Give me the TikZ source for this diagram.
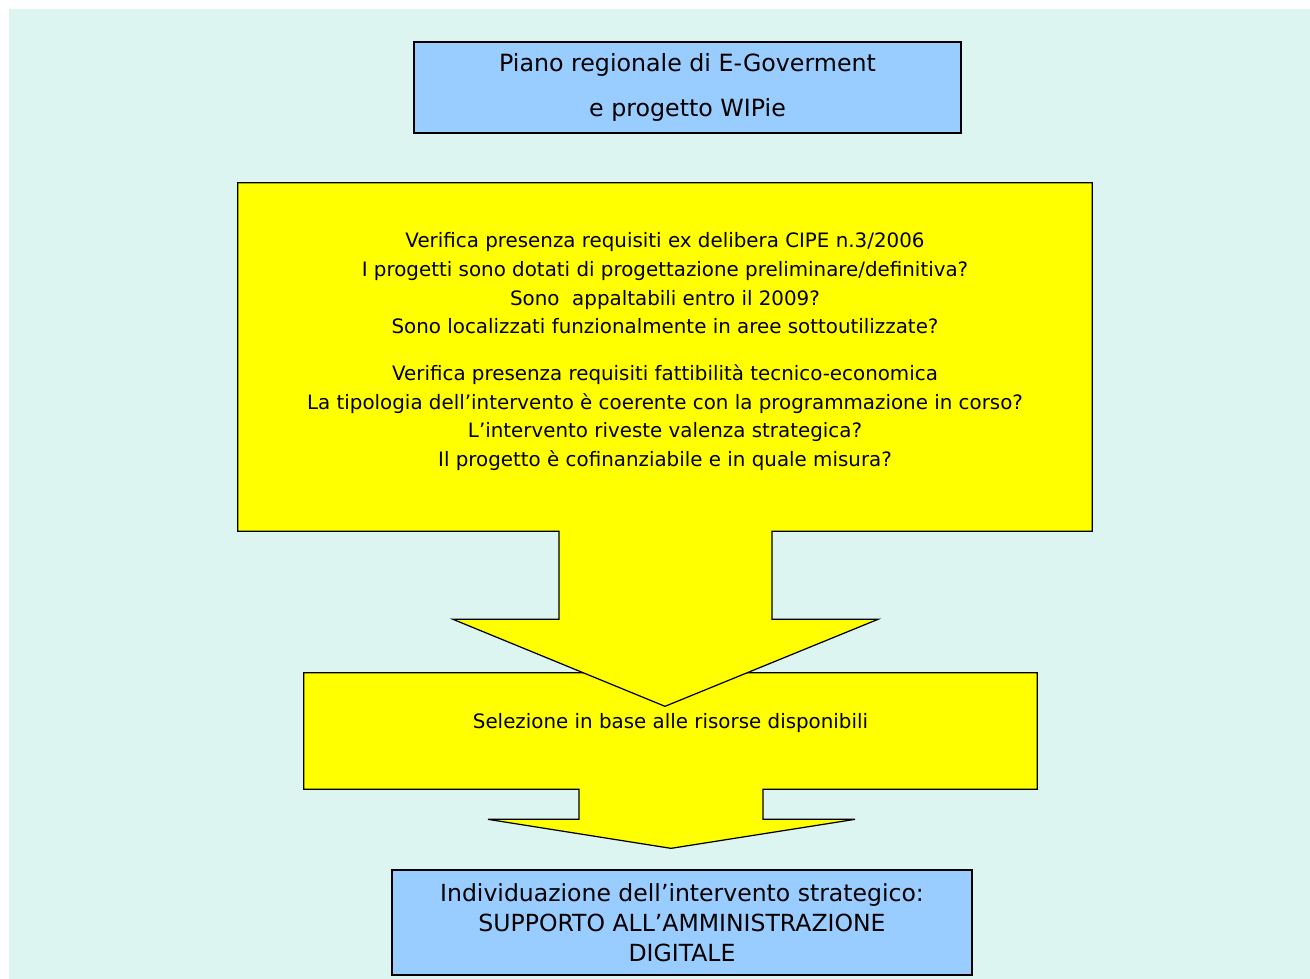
\documentclass[tikz,border=0pt]{standalone}
\usepackage{fontspec}
\setmainfont{DejaVu Sans}
\usetikzlibrary{calc,backgrounds}
\definecolor{sfondo}{RGB}{221,245,240}
\definecolor{celeste}{RGB}{153,204,255}
\definecolor{giallo}{RGB}{255,255,0}
\tikzset{
titolo/.style={draw, fill=celeste, align=center, inner sep=0pt, line width=0.7pt},
blocco/.style={align=center, inner sep=0pt},
freccia/.style={draw, fill=giallo, line join=miter, line width=0.7pt}
}

\begin{document}
\begin{tikzpicture}[x=0.02cm, y=-0.02cm, font=\fontsize{11.3}{16.4}\selectfont]
	\useasboundingbox (0,0) rectangle (1310,979);
	\node[titolo, minimum width=10.94cm, minimum height=1.82cm,
		font=\fontsize{13.5}{26}\selectfont] (piano) at (687.5,87.5)
		{Piano regionale di E-Goverment\\e progetto WIPie};
	\node[blocco, minimum width=17.08cm, minimum height=6.96cm, text depth=8.5pt] (verifica) at (665,357)
		{Verifica presenza requisiti ex delibera CIPE n.3/2006\\
		I progetti sono dotati di progettazione preliminare/definitiva?\\
		Sono\ \ appaltabili entro il 2009?\\
		Sono localizzati funzionalmente in aree sottoutilizzate?\\[10pt]
		Verifica presenza requisiti fattibilità tecnico-economica\\
		La tipologia dell’intervento è coerente con la programmazione in corso?\\
		L’intervento riveste valenza strategica?\\
		Il progetto è cofinanziabile e in quale misura?};
	\node[blocco, minimum width=14.66cm, minimum height=2.32cm, text depth=12pt] (selezione) at (670.5,731)
		{Selezione in base alle risorse disponibili};
	\node[titolo, minimum width=11.6cm, minimum height=2.1cm,
		font=\fontsize{13.4}{17}\selectfont] (scelta) at (682,922.5)
		{Individuazione dell’intervento strategico:\\
		SUPPORTO ALL’AMMINISTRAZIONE\\DIGITALE};
	\begin{pgfonlayer}{background}
		\fill[sfondo] (9,9) rectangle (1310,979);
		\draw[freccia] (selezione.north west) -- (selezione.north east) -- (selezione.south east)
			-- ($(selezione.south)+(92.5,0)$) -- ($(selezione.south)+(92.5,30)$)
			-- ($(selezione.south)+(184.5,30)$) -- ($(selezione.south)+(0.5,59)$)
			-- ($(selezione.south)+(-182.5,30)$) -- ($(selezione.south)+(-91.5,30)$)
			-- ($(selezione.south)+(-91.5,0)$) -- (selezione.south west) -- cycle;
		\draw[freccia] (verifica.north west) -- (verifica.north east) -- (verifica.south east)
			-- ($(verifica.south)+(107,0)$) -- ($(verifica.south)+(107,88)$)
			-- ($(verifica.south)+(213,88)$) -- ($(verifica.south)+(0,175)$)
			-- ($(verifica.south)+(-212,88)$) -- ($(verifica.south)+(-106,88)$)
			-- ($(verifica.south)+(-106,0)$) -- (verifica.south west) -- cycle;
	\end{pgfonlayer}
\end{tikzpicture}
\end{document}
